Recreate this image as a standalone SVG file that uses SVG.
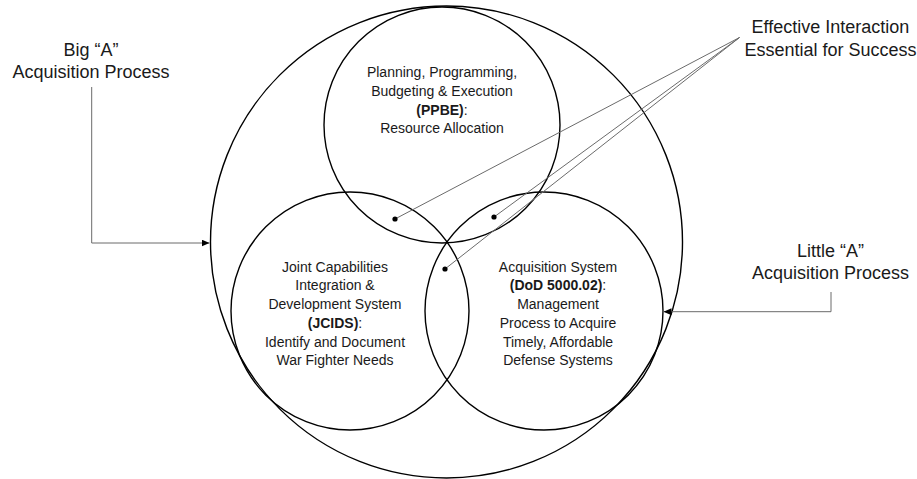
<svg xmlns="http://www.w3.org/2000/svg" width="917" height="479" viewBox="0 0 917 479">
  <style>
    .ring { fill: none; stroke: #000; stroke-width: 1.4; }
    .lbl { font-family: "Liberation Sans", Arial, sans-serif; fill: #1a1a1a; text-anchor: middle; }
    .outer { font-size: 18px; }
    .inner { font-size: 14px; }
    .b { font-weight: bold; }
    .lead { fill: none; stroke: #6b6b6b; stroke-width: 1; }
    .dot { fill: #000; }
  </style>
  <defs>
    <marker id="arrow" markerUnits="userSpaceOnUse" markerWidth="9" markerHeight="8" refX="8" refY="3.5" orient="auto">
      <path d="M0,0 L8,3.5 L0,7 z" fill="#000"/>
    </marker>
  </defs>
  <rect width="917" height="479" fill="#fff"/>

  <!-- outer ring: whole acquisition enterprise -->
  <g id="big-a">
    <circle class="ring" cx="446.5" cy="242" r="236"/>
  </g>

  <g id="ppbe">
    <circle class="ring" cx="442" cy="125" r="118"/>
    <text class="lbl inner" x="442" y="77.3">Planning, Programming,</text>
    <text class="lbl inner" x="442" y="96">Budgeting &amp; Execution</text>
    <text class="lbl inner" x="442" y="114.7"><tspan class="b">(PPBE)</tspan>:</text>
    <text class="lbl inner" x="442" y="133.4">Resource Allocation</text>
  </g>

  <g id="jcids">
    <circle class="ring" cx="350" cy="311" r="119"/>
    <text class="lbl inner" x="335" y="271.7">Joint Capabilities</text>
    <text class="lbl inner" x="335" y="290.4">Integration &amp;</text>
    <text class="lbl inner" x="335" y="309.1">Development System</text>
    <text class="lbl inner" x="335" y="327.8"><tspan class="b">(JCIDS)</tspan>:</text>
    <text class="lbl inner" x="335" y="346.5">Identify and Document</text>
    <text class="lbl inner" x="335" y="365.2">War Fighter Needs</text>
  </g>

  <g id="das">
    <circle class="ring" cx="544" cy="311" r="119"/>
    <text class="lbl inner" x="558" y="271.7">Acquisition System</text>
    <text class="lbl inner" x="558" y="290.4"><tspan class="b">(DoD 5000.02)</tspan>:</text>
    <text class="lbl inner" x="558" y="309.1">Management</text>
    <text class="lbl inner" x="558" y="327.8">Process to Acquire</text>
    <text class="lbl inner" x="558" y="346.5">Timely, Affordable</text>
    <text class="lbl inner" x="558" y="365.2">Defense Systems</text>
  </g>

  <g id="label-big-a">
    <text class="lbl outer" x="91" y="56">Big “A”</text>
    <text class="lbl outer" x="91" y="77.5">Acquisition Process</text>
  </g>

  <g id="label-little-a">
    <text class="lbl outer" x="830.5" y="257">Little “A”</text>
    <text class="lbl outer" x="830.5" y="279">Acquisition Process</text>
  </g>

  <g id="label-interaction">
    <text class="lbl outer" x="830.5" y="32.5">Effective Interaction</text>
    <text class="lbl outer" x="830.5" y="55.5">Essential for Success</text>
  </g>

  <g id="connectors">
    <polyline class="lead" points="91.7,87 91.7,243 209.5,243" marker-end="url(#arrow)"/>
    <polyline class="lead" points="831,292 831,311.7 663.5,311.7" marker-end="url(#arrow)"/>
    <line class="lead" x1="739.5" y1="37.5" x2="395" y2="219"/>
    <line class="lead" x1="739.5" y1="37.5" x2="494" y2="217"/>
    <line class="lead" x1="739.5" y1="37.5" x2="445" y2="269"/>
    <circle class="dot" cx="395" cy="219" r="2.6"/>
    <circle class="dot" cx="494" cy="217" r="2.6"/>
    <circle class="dot" cx="445" cy="269" r="2.6"/>
  </g>
</svg>
